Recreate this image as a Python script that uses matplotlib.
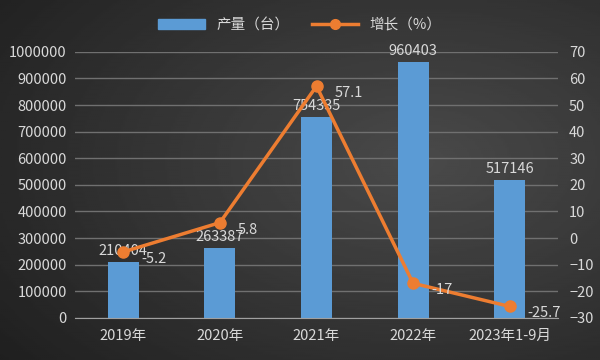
import numpy as np
import matplotlib
matplotlib.use("Agg")
import matplotlib.pyplot as plt
from matplotlib.lines import Line2D
from matplotlib.patches import Patch
from matplotlib.ticker import StrMethodFormatter

plt.rcParams['font.family'] = ['Noto Sans CJK SC', 'DejaVu Sans']

categories = ["2019年", "2020年", "2021年", "2022年", "2023年1-9月"]
output = [210404, 263387, 754335, 960403, 517146]
growth = [-5.2, 5.8, 57.1, -17, -25.7]

txt = '#d9d9d9'
bar_c = '#5b9bd5'
line_c = '#ed7d31'

fig = plt.figure(figsize=(6, 3.6), dpi=100)

# dark gradient background
bg = fig.add_axes([0, 0, 1, 1], zorder=-10)
yy, xx = np.mgrid[0:1:200j, 0:1:300j]
g = 0.12 + 0.17 * np.clip(1 - np.hypot(xx - 0.7, yy - 0.45) * 1.1, 0, 1)
bg.imshow(g, cmap='gray', vmin=0, vmax=1, aspect='auto', extent=[0, 1, 0, 1])
bg.axis('off')

ax = fig.add_axes([0.125, 0.117, 0.805, 0.739])
ax.patch.set_alpha(0)
x = np.arange(len(categories))
bars = ax.bar(x, output, width=0.32, color=bar_c, zorder=2)
ax.set_ylim(0, 1000000)
ax.set_yticks(range(0, 1000001, 100000))
ax.yaxis.set_major_formatter(StrMethodFormatter('{x:.0f}'))
ax.set_xlim(-0.5, len(categories) - 0.5)
ax.set_xticks(x)
ax.set_xticklabels(categories)
ax.grid(axis='y', color='#707070', linewidth=1, zorder=0)
for s in ['top', 'right', 'left']:
    ax.spines[s].set_visible(False)
ax.spines['bottom'].set_color('#a0a0a0')
ax.tick_params(axis='both', colors=txt, labelsize=10.5, length=0)
ax.tick_params(axis='x', pad=8)
ax.tick_params(axis='y', pad=6)
for xi, v in zip(x, output):
    ax.annotate(str(v), (xi, v), xytext=(0, 3), textcoords='offset points',
                ha='center', va='bottom', color=txt, fontsize=10.5, zorder=5)

ax2 = ax.twinx()
ax2.plot(x, growth, color=line_c, linewidth=2.5, marker='o', markersize=8, zorder=3)
ax2.set_ylim(-30, 70)
ax2.set_yticks(range(-30, 71, 10))
for s in ['top', 'right', 'left', 'bottom']:
    ax2.spines[s].set_visible(False)
ax2.tick_params(axis='y', colors=txt, labelsize=10.5, length=0, pad=8)
for xi, v in zip(x, growth):
    ax2.annotate(f"{v:g}", (xi, v), xytext=(13, -5), textcoords='offset points',
                 ha='left', va='center', color=txt, fontsize=10.5, zorder=5)

handles = [Patch(color=bar_c), Line2D([], [], color=line_c, linewidth=2.5, marker='o', markersize=7)]
fig.legend(handles, ["产量（台）", "增长（%）"], loc='center', bbox_to_anchor=(0.5, 0.93),
           ncol=2, frameon=False, fontsize=10.5, labelcolor=txt,
           handlelength=3.2, columnspacing=1.5)

fig.savefig('out.png', dpi=100)
